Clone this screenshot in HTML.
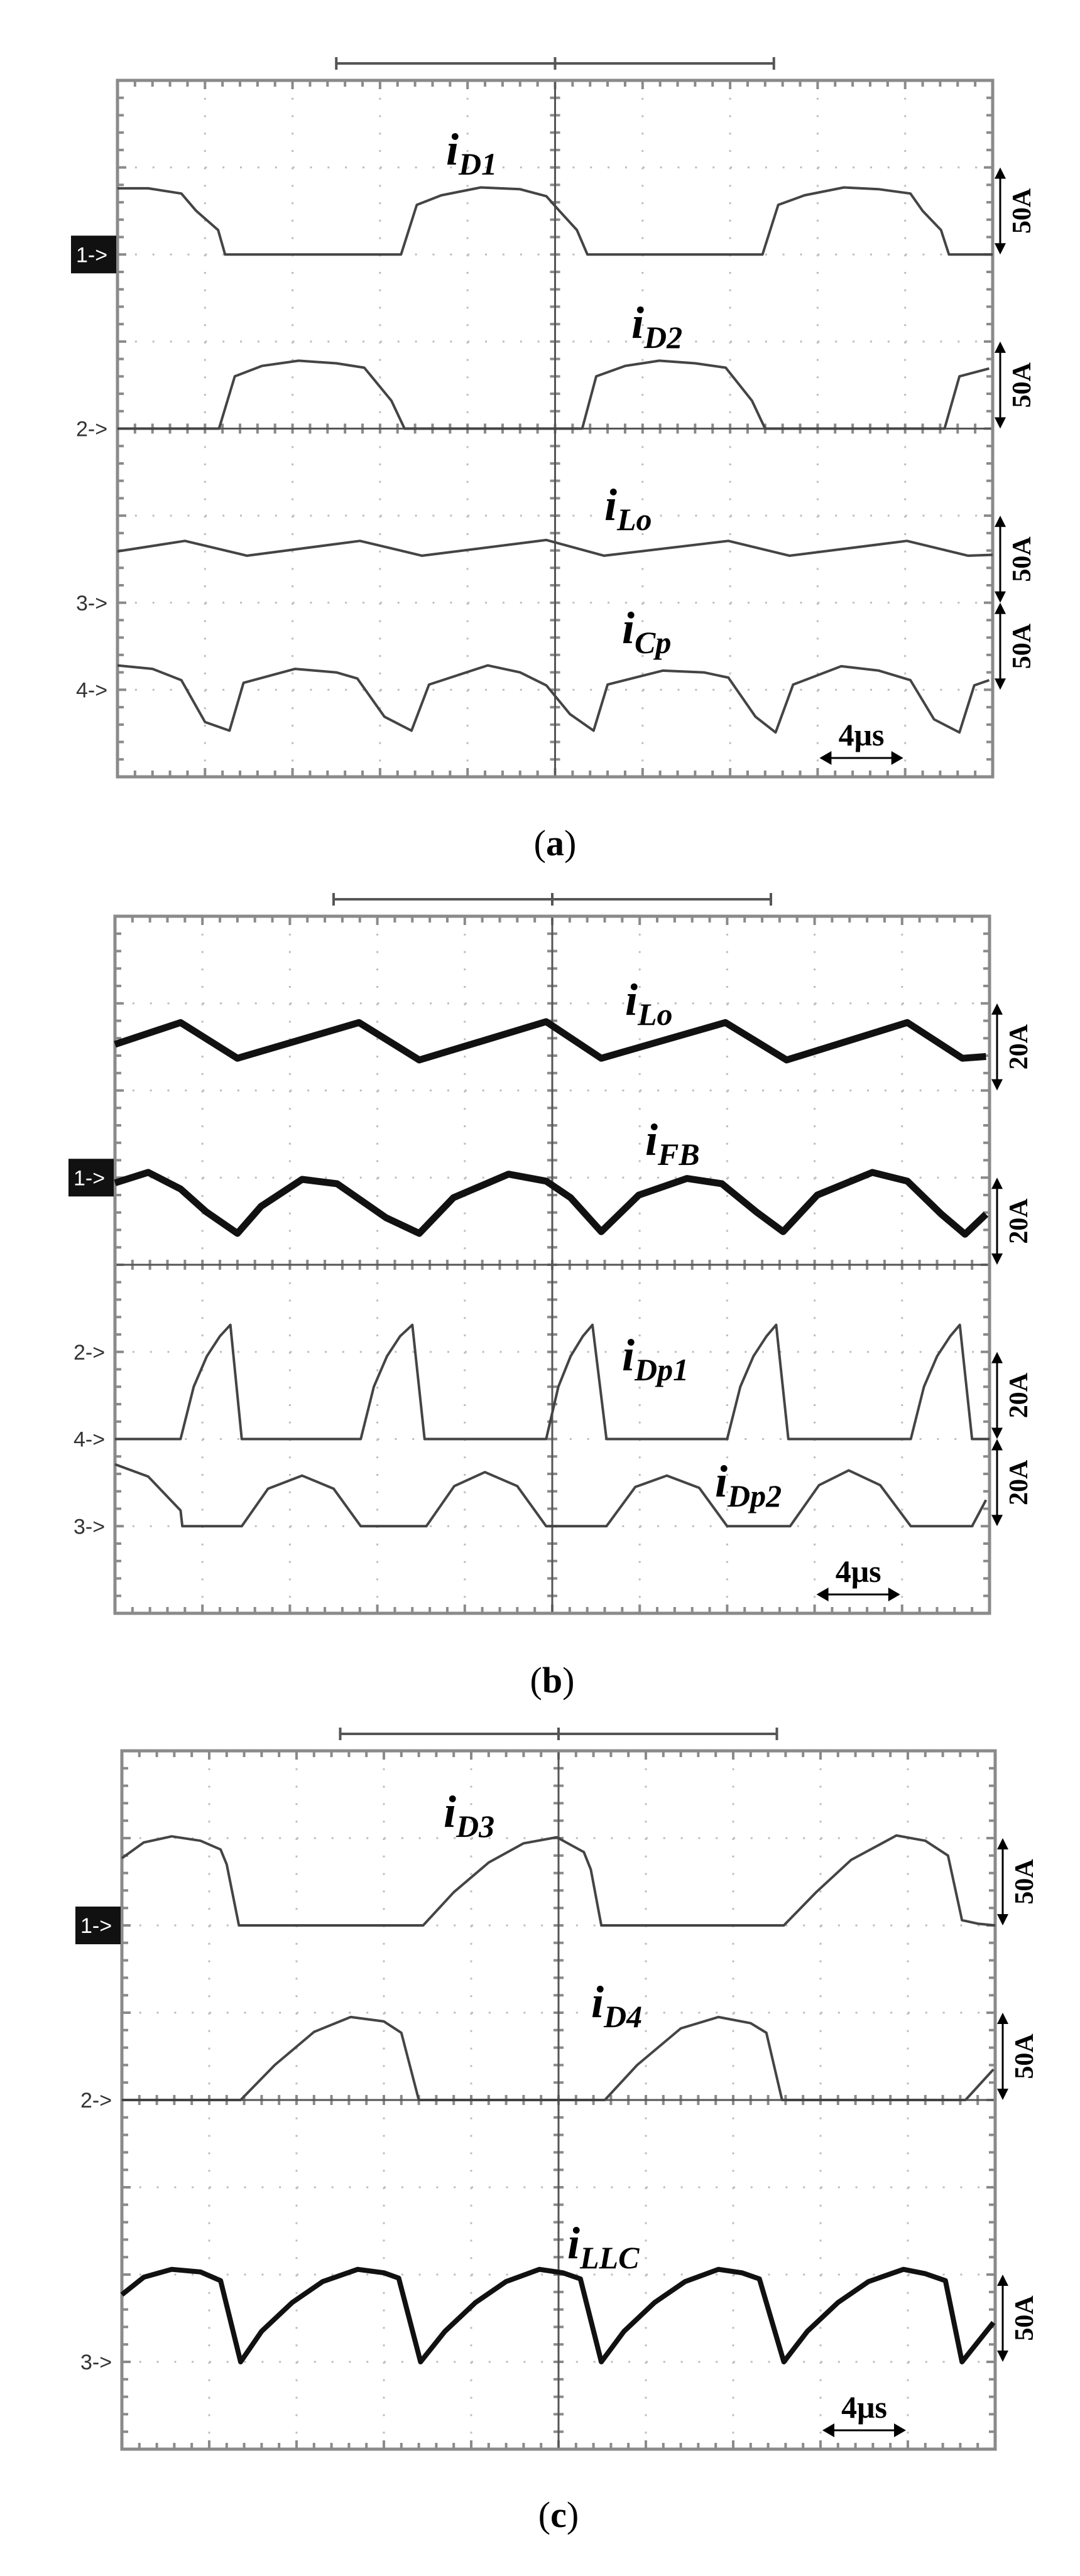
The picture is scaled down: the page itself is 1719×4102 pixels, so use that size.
<!DOCTYPE html>
<html><head><meta charset="utf-8"><title>Oscilloscope waveforms</title>
<style>
html,body{margin:0;padding:0;background:#fff;}
svg{display:block;}
.lbl{font-family:"Liberation Serif",serif;font-weight:bold;font-style:italic;fill:#000;}
.amp{font-family:"Liberation Serif",serif;font-weight:bold;fill:#000;font-size:42px;}
.ch{font-family:"Liberation Sans",sans-serif;font-size:34px;fill:#333;}
.cap{font-family:"Liberation Serif",serif;font-size:58px;fill:#000;}
</style></head>
<body>
<svg id="fig" width="1719" height="4102" viewBox="0 0 1719 4102" xmlns="http://www.w3.org/2000/svg"></svg>
<script>
// ---- Panel (a) data: time in divisions, value in divisions above channel baseline ----
const aD1_t = [0,0.35,0.73,0.9,1.15,1.23,3.24,3.42,3.7,4.15,4.6,4.9,5.05,5.25,5.37,7.37,7.55,7.85,8.3,8.7,9.06,9.2,9.41,9.5,10];
const aD1_v = [0.76,0.76,0.70,0.5,0.28,0,0,0.57,0.68,0.77,0.75,0.67,0.5,0.28,0,0,0.57,0.68,0.77,0.75,0.70,0.5,0.28,0,0];
const aD2_t = [0,1.16,1.34,1.65,2.07,2.5,2.82,3.13,3.28,5.31,5.47,5.8,6.19,6.6,6.95,7.25,7.4,9.45,9.62,9.96];
const aD2_v = [0,0,0.6,0.72,0.78,0.75,0.7,0.32,0,0,0.6,0.72,0.78,0.75,0.7,0.32,0,0,0.6,0.69];
const aLo_t = [0,0.77,1.48,2.77,3.48,4.9,5.56,6.98,7.68,9.02,9.72,10];
const aLo_v = [0.59,0.71,0.54,0.71,0.54,0.72,0.54,0.71,0.54,0.71,0.54,0.55];
const aCp_t = [0,0.4,0.73,1.0,1.28,1.44,2.03,2.5,2.74,3.05,3.36,3.56,4.23,4.6,4.9,5.17,5.44,5.6,6.23,6.7,6.98,7.29,7.52,7.72,8.27,8.7,9.06,9.33,9.62,9.79,9.96];
const aCp_v = [0.28,0.24,0.11,-0.37,-0.47,0.08,0.24,0.2,0.13,-0.31,-0.47,0.06,0.28,0.2,0.05,-0.28,-0.47,0.06,0.22,0.2,0.14,-0.31,-0.49,0.06,0.27,0.22,0.11,-0.34,-0.49,0.05,0.11];
// ---- Panel (b) data ----
const bLo_t = [0,0.75,1.4,2.79,3.48,4.93,5.56,6.98,7.68,9.06,9.69,9.96];
const bLo_v = [0.53,0.78,0.37,0.78,0.35,0.79,0.37,0.78,0.35,0.78,0.37,0.39];
const bFB_t = [0,0.38,0.75,1.04,1.4,1.67,2.14,2.54,3.1,3.48,3.87,4.5,4.93,5.21,5.56,5.99,6.54,6.94,7.33,7.64,8.03,8.66,9.06,9.45,9.72,9.96];
const bFB_v = [-0.06,0.06,-0.13,-0.39,-0.64,-0.33,-0.02,-0.07,-0.46,-0.64,-0.23,0.04,-0.04,-0.23,-0.62,-0.2,-0.01,-0.07,-0.39,-0.62,-0.2,0.06,-0.04,-0.42,-0.65,-0.42];
const bDp1_t = [0,0.75,0.9,1.05,1.2,1.32,1.45,2.81,2.96,3.11,3.26,3.4,3.54,4.93,5.07,5.21,5.35,5.46,5.62,7.0,7.15,7.3,7.45,7.56,7.7,9.1,9.25,9.4,9.55,9.66,9.8,10];
const bDp1_v = [0,0,0.6,0.95,1.18,1.31,0,0,0.6,0.95,1.18,1.31,0,0,0.6,0.95,1.18,1.31,0,0,0.6,0.95,1.18,1.31,0,0,0.6,0.95,1.18,1.31,0,0];
const bDp2_t = [0,0.38,0.75,0.77,1.45,1.75,2.14,2.5,2.81,3.56,3.88,4.23,4.6,4.93,5.62,5.95,6.31,6.68,7.0,7.72,8.05,8.39,8.75,9.1,9.8,9.96];
const bDp2_v = [0.71,0.57,0.18,0,0,0.43,0.58,0.43,0,0,0.46,0.62,0.46,0,0,0.45,0.58,0.44,0,0,0.47,0.64,0.47,0,0,0.3];
// ---- Panel (c) data ----
const cD3_t = [0,0.25,0.57,0.9,1.13,1.2,1.34,3.45,3.8,4.2,4.6,4.98,5.29,5.37,5.49,7.58,7.95,8.35,8.87,9.2,9.46,9.62,9.8,10];
const cD3_v = [0.77,0.95,1.02,0.97,0.87,0.7,0,0,0.38,0.72,0.94,1.01,0.84,0.64,0,0,0.38,0.75,1.03,0.97,0.8,0.06,0.02,0];
const cD4_t = [0,1.36,1.75,2.2,2.62,3.0,3.2,3.4,5.53,5.9,6.4,6.83,7.2,7.38,7.56,9.66,9.98];
const cD4_v = [0,0,0.4,0.78,0.95,0.9,0.77,0,0,0.4,0.82,0.95,0.88,0.77,0,0,0.35];
const cLLC_t = [0,0.25,0.57,0.9,1.13,1.36,1.6,1.95,2.3,2.7,3.0,3.17,3.42,3.7,4.05,4.4,4.78,5.05,5.25,5.49,5.75,6.1,6.45,6.83,7.1,7.3,7.58,7.85,8.2,8.55,8.95,9.2,9.43,9.62,9.98];
const cLLC_v = [0.77,0.97,1.06,1.03,0.93,0,0.35,0.68,0.92,1.06,1.02,0.96,0,0.35,0.68,0.92,1.06,1.02,0.95,0,0.35,0.68,0.92,1.06,1.02,0.95,0,0.35,0.68,0.92,1.06,1.01,0.93,0,0.45];

const NS = "http://www.w3.org/2000/svg";
const svg = document.getElementById('fig');
function mk(tag, attrs, parent){
  const e = document.createElementNS(NS, tag);
  for (const k in attrs) e.setAttribute(k, attrs[k]);
  (parent || svg).appendChild(e);
  return e;
}
function panel(P){
  const g = mk('g', {});
  
  
  const dx = P.w/10, dy = P.h/8;
  const X = t => P.left + t*dx;
  const Y = (base, v) => P.top + (base - v)*dy;
  // dotted grid
  for (let i=1;i<10;i++){ if(i===5) continue;
    const l = mk('line',{x1:X(i),y1:P.top,x2:X(i),y2:P.top+P.h,stroke:'#bdbdbd','stroke-width':3,'stroke-dasharray':'3 '+(dy/5-3).toFixed(2)},g);
    
    
  }
  for (let j=1;j<8;j++){ if(j===4) continue;
    const l = mk('line',{x1:P.left,y1:Y(j,0),x2:P.left+P.w,y2:Y(j,0),stroke:'#bdbdbd','stroke-width':3,'stroke-dasharray':'3 '+(dx/5-3).toFixed(2)},g);
    
    
  }
  // ticks
  let d = '';
  for (let k=1;k<50;k++){ const x = X(k/5); const L = (k%5===0)?14:10;
    d += `M${x},${P.top}v${L}M${x},${P.top+P.h}v${-L}M${x},${P.top+P.h/2-8}v16`; }
  for (let k=1;k<40;k++){ const y = P.top + k*dy/5; const L = (k%5===0)?14:10;
    d += `M${P.left},${y}h${L}M${P.left+P.w},${y}h${-L}M${X(5)-8},${y}h16`; }
  const tk = mk('path',{d:d,stroke:'#8a8a8a','stroke-width':4,fill:'none'},g);
  
  
  // centre axes
  const ax = mk('path',{d:`M${X(5)},${P.top}V${P.top+P.h}M${P.left},${Y(4,0)}H${P.left+P.w}`,stroke:'#555','stroke-width':3,fill:'none'},g);
  
  
  // border
  const b = mk('rect',{x:P.left,y:P.top,width:P.w,height:P.h,fill:'none',stroke:'#8a8a8a','stroke-width':5},g);
  
  
  // bracket
  const by = P.top - 27;
  const br = mk('path',{d:`M${X(2.5)},${by}H${X(7.5)}M${X(2.5)},${by-10}v20M${X(7.5)},${by-10}v20M${X(5)},${by-10}v20`,stroke:'#555','stroke-width':4,fill:'none'},g);
  
  
  // traces
  P.traces.forEach(tr=>{
    let pd = '';
    tr.t.forEach((t,i)=>{ pd += (i?'L':'M') + X(t).toFixed(1) + ',' + Y(tr.base, tr.v[i]).toFixed(1); });
    const p = mk('path',{d:pd,fill:'none',stroke:tr.color,'stroke-width':tr.sw,'stroke-linejoin':'round'},g);
    
    
    // label
    const tx = mk('text',{x:tr.lx,y:tr.ly,class:'lbl','font-size':72},g);
    
    
    const s1 = mk('tspan',{},tx); s1.textContent='i';
    const s2 = mk('tspan',{dy:16,'font-size':50},tx); s2.textContent=tr.sub;
  });
  // channel markers
  P.markers.forEach(m=>{
    const y = Y(m.line,0);
    if (m.box){
      const r = mk('rect',{x:P.left-74,y:y-30,width:72,height:60,fill:'#111'},g);
      
      
    }
    const t = mk('text',{x:P.left-66,y:y+12,class:'ch',fill:m.box?'#fff':'#333'},g);
    if (m.box) t.setAttribute('style','fill:#fff');
    
    
    t.textContent = m.txt + '->';
  });
  // amplitude scale arrows
  P.scales.forEach(s=>{
    const ax0 = P.left + P.w + 12, y1 = Y(s.a,0), y2 = Y(s.b,0);
    const a = mk('path',{d:`M${ax0},${y1+14}V${y2-14}`,stroke:'#000','stroke-width':3},g);
    
    
    const h = mk('path',{d:`M${ax0-9},${y1+18}L${ax0},${y1}L${ax0+9},${y1+18}ZM${ax0-9},${y2-18}L${ax0},${y2}L${ax0+9},${y2-18}Z`,fill:'#000'},g);
    
    
    const cy = (y1+y2)/2;
    const t = mk('text',{x:0,y:0,class:'amp','text-anchor':'middle',transform:`translate(${ax0+48},${cy}) rotate(-90)`},g);
    
    
    t.textContent = s.txt;
  });
  // time scale
  const ty = P.top + P.h - 30;
  const ta = mk('path',{d:`M${X(8)+16},${ty}H${X(9)-16}`,stroke:'#000','stroke-width':3},g);
  
  
  const th = mk('path',{d:`M${X(8)+22},${ty-11}L${X(8)+3},${ty}L${X(8)+22},${ty+11}ZM${X(9)-22},${ty-11}L${X(9)-3},${ty}L${X(9)-22},${ty+11}Z`,fill:'#000'},g);
  
  
  const tt = mk('text',{x:X(8.5),y:ty-20,'text-anchor':'middle',class:'amp','font-size':50},g);
  tt.setAttribute('style','font-size:50px');
  
  
  tt.textContent = '4μs';
  // caption
  const c = mk('text',{x:P.left+P.w/2,y:P.cy,'text-anchor':'middle',class:'cap'},g);
  
  
  const c1 = mk('tspan',{},c); c1.textContent='(';
  const c2 = mk('tspan',{'font-weight':'bold'},c); c2.textContent=P.id;
  const c3 = mk('tspan',{},c); c3.textContent=')';
}
const C1='#444';
panel({id:'a',left:187,top:128,w:1393,h:1109,cy:1362,
  traces:[
    {name:'iD1',sub:'D1',t:aD1_t,v:aD1_v,base:2,color:C1,sw:4,lx:710,ly:262},
    {name:'iD2',sub:'D2',t:aD2_t,v:aD2_v,base:4,color:C1,sw:4,lx:1005,ly:538},
    {name:'iLo',sub:'Lo',t:aLo_t,v:aLo_v,base:6,color:C1,sw:4,lx:962,ly:828},
    {name:'iCp',sub:'Cp',t:aCp_t,v:aCp_v,base:7,color:C1,sw:4,lx:990,ly:1024}],
  markers:[{line:2,txt:'1',box:true},{line:4,txt:'2'},{line:6,txt:'3'},{line:7,txt:'4'}],
  scales:[{a:1,b:2,txt:'50A'},{a:3,b:4,txt:'50A'},{a:5,b:6,txt:'50A'},{a:6,b:7,txt:'50A'}]});
panel({id:'b',left:183,top:1459,w:1392,h:1110,cy:2695,
  traces:[
    {name:'iLo-b',sub:'Lo',t:bLo_t,v:bLo_v,base:2,color:'#111',sw:11,lx:995,ly:1616},
    {name:'iFB',sub:'FB',t:bFB_t,v:bFB_v,base:3,color:'#111',sw:11,lx:1027,ly:1839},
    {name:'iDp1',sub:'Dp1',t:bDp1_t,v:bDp1_v,base:6,color:C1,sw:4,lx:990,ly:2182},
    {name:'iDp2',sub:'Dp2',t:bDp2_t,v:bDp2_v,base:7,color:C1,sw:4,lx:1138,ly:2383}],
  markers:[{line:3,txt:'1',box:true},{line:5,txt:'2'},{line:6,txt:'4'},{line:7,txt:'3'}],
  scales:[{a:1,b:2,txt:'20A'},{a:3,b:4,txt:'20A'},{a:5,b:6,txt:'20A'},{a:6,b:7,txt:'20A'}]});
panel({id:'c',left:194,top:2788,w:1390,h:1112,cy:4024,
  traces:[
    {name:'iD3',sub:'D3',t:cD3_t,v:cD3_v,base:2,color:C1,sw:4,lx:706,ly:2909},
    {name:'iD4',sub:'D4',t:cD4_t,v:cD4_v,base:4,color:C1,sw:4,lx:941,ly:3212},
    {name:'iLLC',sub:'LLC',t:cLLC_t,v:cLLC_v,base:7,color:'#111',sw:8,lx:903,ly:3596}],
  markers:[{line:2,txt:'1',box:true},{line:4,txt:'2'},{line:7,txt:'3'}],
  scales:[{a:1,b:2,txt:'50A'},{a:3,b:4,txt:'50A'},{a:6,b:7,txt:'50A'}]});
</script>
</body></html>
